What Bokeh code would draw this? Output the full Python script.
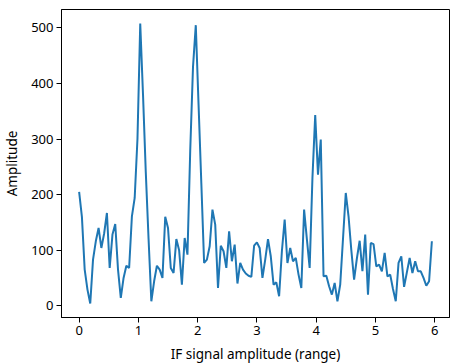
import numpy as np
from bokeh.plotting import figure
from bokeh.models import FixedTicker, Range1d
from bokeh.embed import file_html
from bokeh.resources import INLINE

# Range bin spacing (m): c / (2 * B), B = 3.2 GHz
range_step = 0.046875
amplitude = [
    205, 160, 65, 29, 4, 83, 116, 140, 104, 130,
    167, 68, 128, 147, 65, 14, 50, 72, 68, 161,
    194, 300, 508, 380, 240, 120, 8, 44, 72, 65,
    50, 160, 140, 68, 59, 120, 100, 38, 122, 92,
    280, 430, 505, 362, 220, 77, 83, 107, 173, 146,
    32, 108, 98, 68, 134, 80, 110, 40, 77, 65,
    58, 54, 52, 108, 114, 104, 50, 83, 120, 89,
    38, 42, 17, 98, 155, 77, 104, 80, 86, 56,
    32, 173, 120, 68, 230, 343, 236, 299, 53, 54,
    35, 20, 41, 8, 38, 120, 203, 161, 100, 47,
    85, 117, 62, 128, 20, 113, 111, 71, 74, 62,
    95, 53, 56, 30, 8, 77, 89, 34, 60, 86,
    59, 80, 62, 62, 50, 36, 44, 116,
]
x_ticks = [0, 1, 2, 3, 4, 5, 6]
y_ticks = [0, 100, 200, 300, 400, 500]
x_label = "IF signal amplitude (range)"
y_label = "Amplitude"

x = np.arange(len(amplitude)) * range_step
y = np.array(amplitude, dtype=float)

xpad = (x.max() - x.min()) * 0.05
ypad = (y.max() - y.min()) * 0.05

p = figure(frame_width=388, frame_height=308, output_backend="svg", toolbar_location=None,
           x_range=Range1d(x.min() - xpad, x.max() + xpad),
           y_range=Range1d(y.min() - ypad, y.max() + ypad),
           min_border_left=57, min_border_right=4, min_border_top=9, min_border_bottom=10)

p.line(x, y, line_color="#1f77b4", line_width=2)

p.xgrid.visible = False
p.ygrid.visible = False
p.outline_line_color = "black"
p.outline_line_width = 1
p.outline_line_alpha = 1

font = "Noto Sans"
for ax in (p.xaxis[0], p.yaxis[0]):
    ax.major_label_text_font = font
    ax.major_label_text_font_size = "13px"
    ax.major_label_text_color = "black"
    ax.axis_label_text_font = font
    ax.axis_label_text_font_size = "13.5px"
    ax.axis_label_text_font_style = "normal"
    ax.axis_label_text_color = "black"
    ax.minor_tick_line_color = None
    ax.major_tick_out = 5
    ax.major_tick_in = 0
    ax.major_tick_line_color = "black"
    ax.axis_line_color = "black"
    ax.major_label_standoff = 3

p.xaxis[0].ticker = FixedTicker(ticks=x_ticks)
p.yaxis[0].ticker = FixedTicker(ticks=y_ticks)
p.xaxis[0].axis_label = x_label
p.yaxis[0].axis_label = y_label
p.xaxis[0].axis_label_standoff = 7
p.yaxis[0].axis_label_standoff = 7

open("out.html", "w").write(file_html(p, INLINE))
